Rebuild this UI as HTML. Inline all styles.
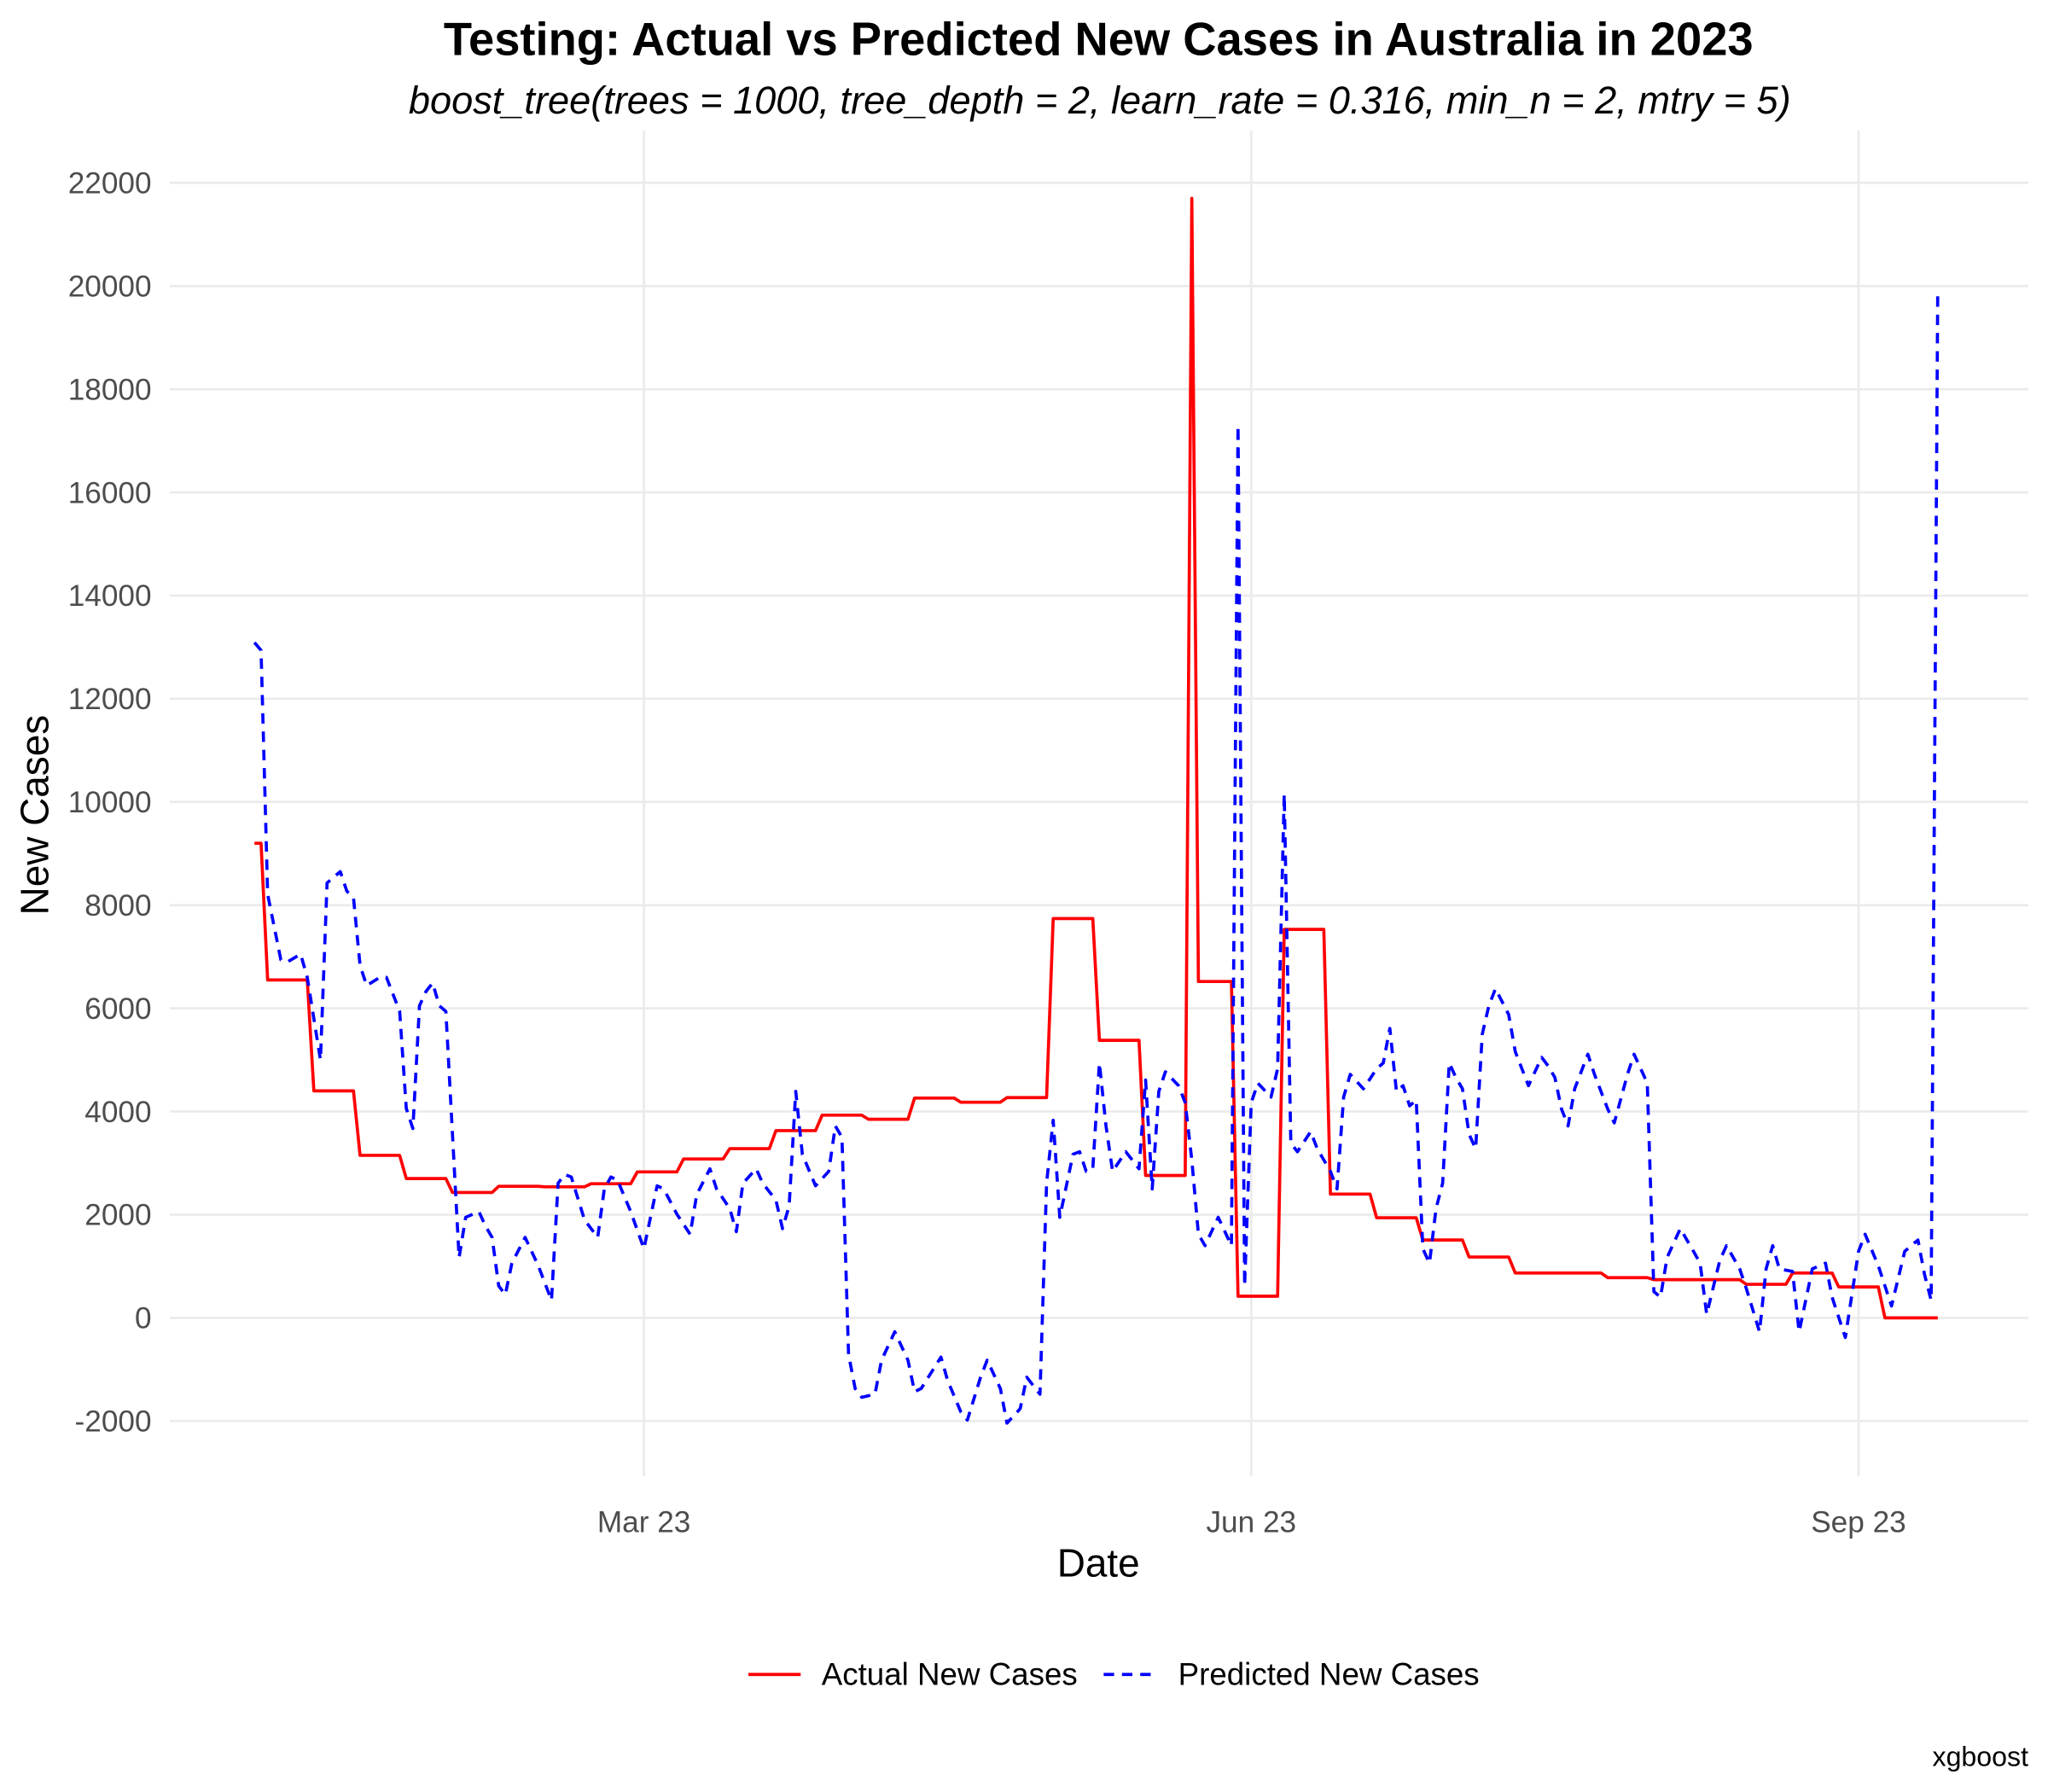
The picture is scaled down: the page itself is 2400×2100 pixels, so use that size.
<!DOCTYPE html>
<html><head><meta charset="utf-8"><style>
html,body{margin:0;padding:0;background:#fff;}
svg{display:block;font-family:"Liberation Sans",sans-serif;}
</style></head><body>
<svg id="chart" width="2400" height="2100" viewBox="0 0 1568 1372" xmlns="http://www.w3.org/2000/svg">
<rect width="1568" height="1372" fill="#fff"/>
<text x="841" y="42" text-anchor="middle" font-size="35.5" font-weight="bold" fill="#000">Testing: Actual vs Predicted New Cases in Australia in 2023</text>
<text x="842" y="87" text-anchor="middle" font-size="29.5" font-style="italic" fill="#000">boost_tree(trees = 1000, tree_depth = 2, learn_rate = 0.316, min_n = 2, mtry = 5)</text>
<g id="grid"></g>
<g id="yticks"></g>
<g id="xticks"></g>
<g id="series"></g>
<text x="841" y="1207" text-anchor="middle" font-size="30" fill="#000">Date</text>
<text transform="translate(37,624) rotate(-90)" text-anchor="middle" font-size="30" fill="#000">New Cases</text>
<g>
<g>
<line x1="573" y1="1282" x2="613" y2="1282" stroke="#ff0000" stroke-width="2.5"/>
<text x="629" y="1290" font-size="24" fill="#000">Actual New Cases</text>
</g>
<g>
<line x1="845" y1="1282" x2="885" y2="1282" stroke="#0000ff" stroke-width="2.5" stroke-dasharray="8,6"/>
<text x="902" y="1290" font-size="24" fill="#000">Predicted New Cases</text>
</g>
</g>
<text x="1553" y="1352" text-anchor="end" font-size="21" fill="#000">xgboost</text>
</svg>
<script>
// y ticks
const yTickValues = [-2000,0,2000,4000,6000,8000,10000,12000,14000,16000,18000,20000,22000];
// x ticks: day-of-year 2023 (Jan 1 = 0)
const xTickDays = [59,151,243];
const xTickLabels = ["Mar 23","Jun 23","Sep 23"];
// Actual: step periods (start day-of-year, value)
const actualStartDays = [0,2,9,16,23,30,37,44,51,58,65,72,79,86,93,100,107,114,121,128,135,142,143,149,156,163,170,177,184,191,198,205,212,219,226,233,240,247];
const actualValues = [9200,6550,4400,3150,2700,2430,2550,2540,2600,2830,3080,3280,3630,3930,3850,4260,4180,4270,7740,5380,2760,21700,6520,420,7530,2400,1940,1510,1180,870,870,780,740,740,650,870,600,0];
const actualEndDay = 255;
// Predicted: day-of-year and value (parallel arrays, 10 per row)
const predDays = [
0,1,2,4,5,7,8,10,11,13,
14,15,16,17,19,20,21,22,23,24,
25,26,27,28,29,31,32,34,35,36,
37,38,39,41,43,45,46,47,48,50,
52,53,54,55,57,59,61,62,64,66,
67,69,70,72,73,74,76,77,79,80,
81,82,83,85,87,88,89,90,91,92,
94,95,97,99,100,101,104,105,107,108,
110,111,113,114,116,117,119,120,121,122,
124,125,126,127,128,129,130,132,134,135,
136,137,138,140,141,142,143,144,146,148,
149,150,151,152,154,155,156,157,158,160,
161,163,164,165,166,168,170,171,172,173,
174,175,176,177,178,179,180,181,182,183,
184,185,186,187,188,190,191,193,195,196,
197,198,199,200,202,203,205,206,208,209,
211,212,213,214,216,218,219,220,222,223,
225,226,228,229,230,231,233,234,236,238,
239,241,243,244,246,248,250,252,253,254,
255];
const predValues = [
13090,12940,8210,6940,6900,7050,6600,5000,8430,8650,
8270,8150,6830,6440,6600,6600,6270,5940,4060,3670,
6050,6330,6490,6050,5940,1170,1950,2060,1780,1560,
620,450,1060,1560,1010,340,2610,2780,2730,1900,
1560,2500,2730,2670,2060,1340,2560,2500,2010,1620,
2390,2890,2500,2120,1670,2610,2890,2610,2280,1730,
2170,4390,3170,2560,2840,3720,3500,-710,-1370,-1540,
-1480,-820,-270,-820,-1430,-1370,-760,-1210,-1820,-1980,
-1150,-820,-1370,-2040,-1760,-1150,-1480,2610,3830,1950,
3170,3220,2840,2890,4940,3720,2840,3220,2890,4610,
2500,4390,4770,4500,4170,3060,1620,1400,1950,1400,
17300,620,4170,4550,4280,4830,10150,3390,3220,3610,
3280,2840,2500,4280,4720,4440,4830,4940,5610,4390,
4500,4110,4220,1340,1060,2120,2610,4940,4660,4440,
3560,3280,5500,6050,6380,5880,5160,4500,5050,4880,
4660,4050,3720,4440,5110,4720,4050,3780,4720,5110,
4550,510,400,1170,1730,1290,1060,70,1120,1400,
950,570,-270,950,1400,950,900,-270,950,1060,
400,-380,1290,1620,1010,230,1290,1510,840,340,
19900];

const NS = "http://www.w3.org/2000/svg";
const X0 = 130, X1 = 1553;
function xScale(d){ return 493 + (d - 59) * 5.054; }
function yScale(v){ return 1009 - v * 0.0395; }
function mk(tag, attrs, parent){ const e = document.createElementNS(NS, tag); for (const k in attrs) e.setAttribute(k, attrs[k]); parent.appendChild(e); return e; }

const grid = document.getElementById('grid');
const yt = document.getElementById('yticks');
const xt = document.getElementById('xticks');
const series = document.getElementById('series');

yTickValues.forEach(v => {
  const l = mk('line', {x1:X0, x2:X1, y1:yScale(v), y2:yScale(v), stroke:'#ebebeb', 'stroke-width':1.8}, grid);
  
  
  const t = mk('text', {x:116, y:yScale(v)+8, 'text-anchor':'end', 'font-size':23, fill:'#4d4d4d'}, yt);
  t.textContent = String(v);
  
  
});
xTickDays.forEach((d, i) => {
  const l = mk('line', {x1:xScale(d), x2:xScale(d), y1:100, y2:1130, stroke:'#ebebeb', 'stroke-width':1.8}, grid);
  
  
  const t = mk('text', {x:xScale(d), y:1173, 'text-anchor':'middle', 'font-size':23, fill:'#4d4d4d'}, xt);
  t.textContent = xTickLabels[i];
  
  
});

// actual line
let pts = [];
for (let i = 0; i < actualStartDays.length; i++) {
  const s = actualStartDays[i];
  const e = i + 1 < actualStartDays.length ? actualStartDays[i+1] - 1 : actualEndDay;
  pts.push(xScale(s).toFixed(2) + ',' + yScale(actualValues[i]).toFixed(2));
  if (e > s) pts.push(xScale(e).toFixed(2) + ',' + yScale(actualValues[i]).toFixed(2));
}
const actualLine = mk('polyline', {points: pts.join(' '), fill:'none', stroke:'#ff0000', 'stroke-width':2.4, 'stroke-linejoin':'round'}, series);



const n = Math.min(predDays.length, predValues.length);
const ppts = [];
for (let i = 0; i < n; i++) ppts.push(xScale(predDays[i]).toFixed(2) + ',' + yScale(predValues[i]).toFixed(2));
const predLine = mk('polyline', {points: ppts.join(' '), fill:'none', stroke:'#0000ff', 'stroke-width':2.4, 'stroke-dasharray':'8,6', 'stroke-linejoin':'round'}, series);


</script>
</body></html>
